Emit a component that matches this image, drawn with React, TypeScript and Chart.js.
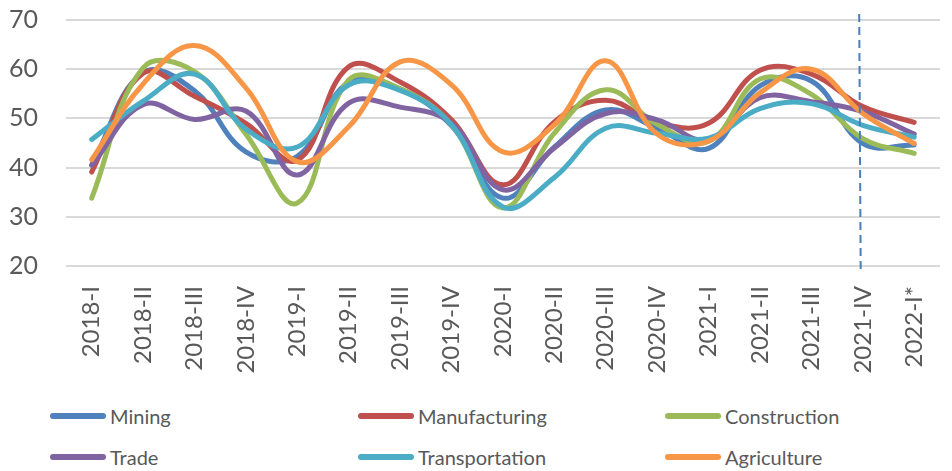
import React, { useEffect, useRef } from "react";
import { Chart, registerables } from "chart.js";

Chart.register(...registerables);

const categories = [
  "2018-I", "2018-II", "2018-III", "2018-IV",
  "2019-I", "2019-II", "2019-III", "2019-IV",
  "2020-I", "2020-II", "2020-III", "2020-IV",
  "2021-I", "2021-II", "2021-III", "2021-IV",
  "2022-I*",
];

const mining = [40.5, 59.3, 55.6, 43.2, 42.3, 57.4, 56.0, 48.5, 33.8, 44.2, 51.7, 48.0, 43.9, 56.6, 57.6, 44.9, 44.6];
const manufacturing = [39.1, 59.2, 54.5, 49.0, 41.5, 60.5, 57.4, 49.7, 36.5, 49.3, 53.7, 49.1, 49.0, 59.8, 59.0, 52.4, 49.2];
const construction = [33.8, 60.3, 59.5, 46.8, 32.8, 57.8, 56.0, 48.7, 31.8, 47.0, 55.8, 48.8, 45.3, 58.0, 54.9, 45.9, 42.9];
const trade = [40.5, 52.8, 49.8, 51.5, 38.5, 53.1, 52.3, 49.0, 35.5, 44.0, 51.0, 49.7, 45.6, 54.2, 53.4, 51.4, 46.8];
const transportation = [45.7, 53.5, 59.0, 47.8, 44.2, 56.8, 55.7, 48.7, 32.0, 38.0, 48.0, 47.0, 46.0, 52.0, 53.0, 48.6, 46.2];
const agriculture = [41.6, 57.0, 64.8, 56.2, 41.2, 48.3, 61.5, 56.8, 43.2, 48.7, 61.7, 46.8, 45.4, 55.2, 60.0, 51.0, 44.9];

const seriesNames = ["Mining", "Manufacturing", "Construction", "Trade", "Transportation", "Agriculture"];
const seriesValues = [mining, manufacturing, construction, trade, transportation, agriculture];
const seriesColors = ["#4F81BD", "#C0504D", "#9BBB59", "#8064A2", "#4BACC6", "#F79646"];

const yMin = 20;
const yMax = 70;
const yStep = 10;
const dividerAt = 14.93; // just before 2021-IV

const textColor = "#595959";
const fontFamily = "Lato, 'Open Sans', sans-serif";

const dividerPlugin = {
  id: "divider",
  afterDatasetsDraw(chart: any) {
    const ctx = chart.ctx;
    const x = chart.scales.x.getPixelForValue(dividerAt);
    const { top, bottom } = chart.chartArea;
    ctx.save();
    ctx.strokeStyle = "#4A7EBB";
    ctx.lineWidth = 2;
    ctx.setLineDash([8, 5]);
    ctx.beginPath();
    ctx.moveTo(x, top - 6);
    ctx.lineTo(x + 1.5, bottom + 4);
    ctx.stroke();
    ctx.restore();
  },
};

export default function App() {
  const canvasRef = useRef<HTMLCanvasElement | null>(null);

  useEffect(() => {
    if (!canvasRef.current) return;
    const n = seriesNames.length;
    const chart = new Chart(canvasRef.current, {
      type: "line",
      data: {
        labels: categories,
        datasets: seriesNames.map((name, i) => ({
          label: name,
          data: seriesValues[i],
          borderColor: seriesColors[i],
          backgroundColor: seriesColors[i],
          borderWidth: 5,
          pointRadius: 0,
          pointHoverRadius: 0,
          tension: 0.4,
          fill: false,
          borderCapStyle: "round" as const,
          borderJoinStyle: "round" as const,
          order: n - i,
        })),
      },
      options: {
        responsive: false,
        animation: false,
        layout: { padding: { top: 0, left: 0, right: 0, bottom: 0 } },
        plugins: {
          legend: { display: false },
          tooltip: { enabled: false },
        },
        scales: {
          x: {
            type: "category",
            offset: true,
            grid: { display: false, drawTicks: false },
            border: { display: false },
            ticks: {
              autoSkip: false,
              minRotation: 90,
              maxRotation: 90,
              padding: 20,
              color: textColor,
              font: { family: fontFamily, size: 24 },
            },
            afterFit: (scale: any) => {
              scale.height = 134;
            },
          },
          y: {
            min: yMin,
            max: yMax,
            grid: {
              color: "#D9D9D9",
              lineWidth: 2,
              drawTicks: true,
              tickLength: 23,
              tickColor: "rgba(0,0,0,0)",
            },
            border: { display: false },
            ticks: {
              stepSize: yStep,
              padding: 5,
              color: textColor,
              font: { family: fontFamily, size: 25 },
            },
            afterFit: (scale: any) => {
              scale.width = 66;
            },
          },
        },
      },
      plugins: [dividerPlugin],
    });
    return () => chart.destroy();
  }, []);

  const legendLeft = [50, 358, 665];
  const legendTop = [416, 457];

  return (
    <div
      style={{
        position: "fixed",
        left: 0,
        top: 0,
        width: 952,
        height: 471,
        overflow: "hidden",
        background: "#fff",
      }}
    >
      <canvas
        ref={canvasRef}
        width={963}
        height={400}
        style={{ position: "absolute", left: 0, top: 0, display: "block" }}
      />
      {seriesNames.map((name, i) => (
        <div
          key={name}
          style={{
            position: "absolute",
            left: legendLeft[i % 3],
            top: legendTop[Math.floor(i / 3)] - 14,
            height: 28,
            display: "flex",
            alignItems: "center",
            fontFamily,
            fontSize: 20,
            color: textColor,
            whiteSpace: "nowrap",
          }}
        >
          <span
            style={{
              display: "inline-block",
              width: 56,
              height: 6,
              borderRadius: 3,
              background: seriesColors[i],
              marginRight: 4,
            }}
          />
          <span>{name}</span>
        </div>
      ))}
    </div>
  );
}
